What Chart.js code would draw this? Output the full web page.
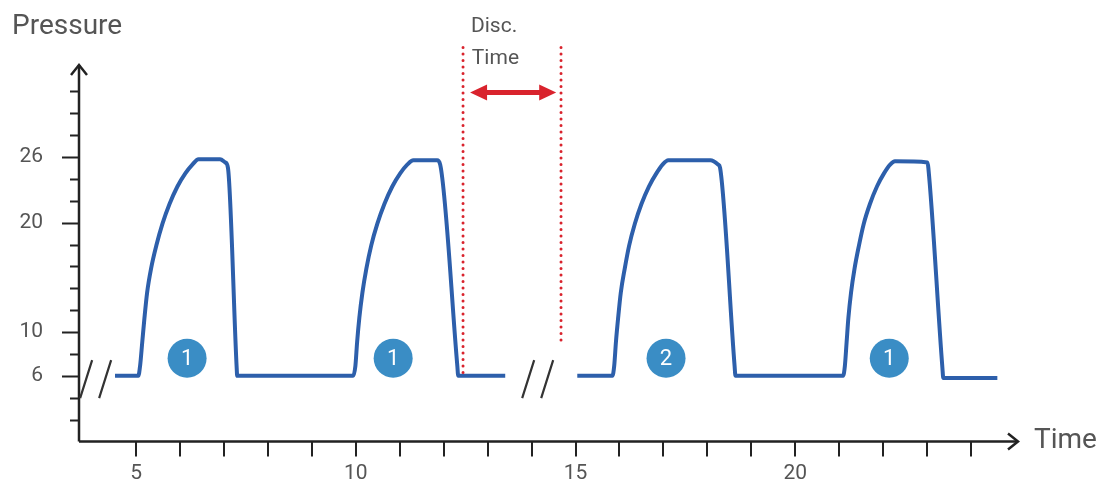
<!DOCTYPE html>
<html>
<head>
<meta charset="utf-8">
<script src="https://cdn.jsdelivr.net/npm/chart.js@4.4.0/dist/chart.umd.min.js"></script>
<style>
  html, body { margin: 0; padding: 0; background: #fff; }
  #chart { display: block; }
</style>
</head>
<body>
<canvas id="chart" width="1102" height="490"></canvas>
<script>
// pressure trace, null = the // break between cycles
const pulseTime = [
    4.52, 5.05, 5.09, 5.14, 5.19, 5.25, 5.34, 5.46, 5.60, 5.76, 5.94, 6.12, 6.28, 6.42, 6.91, 7.03, 7.09, 7.29, 7.30,
    9.94, 9.99, 10.03, 10.08, 10.15, 10.24, 10.35, 10.49, 10.65, 10.83, 11.01, 11.17, 11.31, 11.85, 11.92, 12.31, 12.33, 13.40,
    14.20,
    15.04, 15.84, 15.88, 15.92, 15.97, 16.03, 16.12, 16.22, 16.35, 16.50, 16.67, 16.84, 16.98, 17.11, 18.07, 18.25, 18.29, 18.62, 18.64,
    21.09, 21.13, 21.17, 21.21, 21.27, 21.35, 21.45, 21.56, 21.70, 21.86, 22.02, 22.16, 22.27, 23.01, 23.03, 23.35, 23.37, 24.60
];
const pulsePressure = [
    6, 6, 6.9, 9.1, 11.3, 13.6, 15.8, 17.9, 19.9, 21.7, 23.3, 24.5, 25.3, 25.8, 25.8, 25.5, 25.0, 6.6, 6,
    6, 6.9, 9.1, 11.3, 13.6, 15.8, 17.9, 19.9, 21.7, 23.3, 24.5, 25.3, 25.7, 25.7, 25.3, 6.9, 6, 6,
    null,
    6, 6, 6.9, 9.1, 11.3, 13.6, 15.8, 17.9, 19.9, 21.7, 23.3, 24.5, 25.3, 25.7, 25.7, 25.3, 25.0, 6.9, 6,
    6, 6.9, 9.1, 11.3, 13.6, 15.8, 17.9, 19.9, 21.7, 23.3, 24.5, 25.3, 25.6, 25.5, 25.0, 6.7, 5.8, 5.8
];

// numbered phase markers
const phaseTime = [6.16, 10.85, 17.06, 22.14];
const phasePressure = [7.6, 7.6, 7.6, 7.6];
const phaseLabels = ['1', '1', '2', '1'];

// axis labels
const xTickValues = [5, 10, 15, 20];
const yTickValues = [6, 10, 20, 26];

// annotations (data units)
const breakTimes = [4.09, 14.15];
const discTimes = [12.44, 14.67];
const discBottoms = [6, 8.7];

const textColor = '#555';
const axisColor = '#222';
const red = '#d9232d';

const axesPlugin = {
    id: 'axes',
    beforeDatasetsDraw(chart) {
        const { ctx, chartArea: a, scales: { x, y } } = chart;
        ctx.save();
        ctx.strokeStyle = axisColor;
        ctx.lineWidth = 2.5;
        ctx.beginPath();
        ctx.moveTo(a.left, a.bottom);
        ctx.lineTo(a.left, a.top);
        ctx.moveTo(a.left, a.bottom);
        ctx.lineTo(a.right, a.bottom);
        ctx.stroke();

        // arrow heads
        ctx.beginPath();
        ctx.moveTo(a.left - 8, a.top + 10);
        ctx.lineTo(a.left, a.top);
        ctx.lineTo(a.left + 8, a.top + 10);
        ctx.moveTo(a.right - 10, a.bottom - 8);
        ctx.lineTo(a.right, a.bottom);
        ctx.lineTo(a.right - 10, a.bottom + 8);
        ctx.stroke();

        // tick marks
        ctx.lineWidth = 2;
        ctx.beginPath();
        for (let v = 2; v <= 32; v += 2) {
            const py = Math.round(y.getPixelForValue(v)) + 0.5;
            const len = yTickValues.includes(v) ? 17 : 9;
            ctx.moveTo(a.left - len, py);
            ctx.lineTo(a.left, py);
        }
        for (let t = 5; t <= 24; t++) {
            const px = Math.round(x.getPixelForValue(t));
            ctx.moveTo(px, a.bottom);
            ctx.lineTo(px, a.bottom + 15);
        }
        ctx.stroke();

        // axis titles
        ctx.fillStyle = textColor;
        ctx.font = '28px Roboto';
        ctx.textBaseline = 'middle';
        ctx.textAlign = 'left';
        ctx.fillText('Pressure', 12, 27);
        ctx.fillText('Time', a.right + 16, a.bottom);
        ctx.restore();
    },
    afterDatasetsDraw(chart) {
        const { ctx, scales: { x, y } } = chart;
        ctx.save();

        // // break marks
        ctx.strokeStyle = '#333';
        ctx.lineWidth = 2.2;
        ctx.beginPath();
        breakTimes.forEach(bt => {
            const cx = x.getPixelForValue(bt);
            const cy = y.getPixelForValue(5.7);
            [-10, 9].forEach(off => {
                ctx.moveTo(cx + off - 6, cy + 19);
                ctx.lineTo(cx + off + 6, cy - 19);
            });
        });
        ctx.stroke();

        // dotted disconnection lines
        ctx.strokeStyle = red;
        ctx.lineWidth = 3;
        ctx.lineCap = 'round';
        ctx.setLineDash([0, 6.5]);
        discTimes.forEach((dt, i) => {
            const px = x.getPixelForValue(dt);
            ctx.beginPath();
            ctx.moveTo(px, y.getPixelForValue(36));
            ctx.lineTo(px, y.getPixelForValue(discBottoms[i]));
            ctx.stroke();
        });
        ctx.setLineDash([]);

        // double arrow
        const ay = y.getPixelForValue(31.9);
        const x0 = x.getPixelForValue(12.60);
        const x1 = x.getPixelForValue(14.56);
        ctx.fillStyle = red;
        ctx.strokeStyle = red;
        ctx.lineWidth = 5;
        ctx.lineCap = 'butt';
        ctx.beginPath();
        ctx.moveTo(x0 + 12, ay);
        ctx.lineTo(x1 - 12, ay);
        ctx.stroke();
        ctx.beginPath();
        ctx.moveTo(x0, ay);
        ctx.lineTo(x0 + 17, ay - 8);
        ctx.lineTo(x0 + 17, ay + 8);
        ctx.closePath();
        ctx.moveTo(x1, ay);
        ctx.lineTo(x1 - 17, ay - 8);
        ctx.lineTo(x1 - 17, ay + 8);
        ctx.closePath();
        ctx.fill();

        // Disc. Time label
        ctx.fillStyle = textColor;
        ctx.font = '21px Roboto';
        ctx.textBaseline = 'middle';
        ctx.textAlign = 'left';
        ctx.fillText('Disc.', x.getPixelForValue(12.62), y.getPixelForValue(37.9));
        ctx.fillText('Time', x.getPixelForValue(12.64), y.getPixelForValue(35.0));

        // numbers inside the circles
        const meta = chart.getDatasetMeta(1);
        ctx.fillStyle = '#fff';
        ctx.font = '22px Roboto';
        ctx.textAlign = 'center';
        meta.data.forEach((pt, i) => {
            ctx.fillText(phaseLabels[i], pt.x, pt.y + 1);
        });
        ctx.restore();
    }
};

const tickFont = { family: 'Roboto', size: 21 };

new Chart(document.getElementById('chart'), {
    type: 'line',
    data: {
        datasets: [{
            data: pulseTime.map((t, i) => ({ x: t, y: pulsePressure[i] })),
            borderColor: '#2d5fab',
            borderWidth: 4,
            borderJoinStyle: 'round',
            pointRadius: 0,
            cubicInterpolationMode: 'monotone',
            spanGaps: false
        }, {
            data: phaseTime.map((t, i) => ({ x: t, y: phasePressure[i] })),
            showLine: false,
            pointRadius: 19.5,
            pointBackgroundColor: '#3a8dc5',
            pointBorderWidth: 0
        }]
    },
    options: {
        responsive: false,
        animation: false,
        layout: { padding: { top: 65, right: 84, left: 0, bottom: 0 } },
        plugins: { legend: { display: false }, tooltip: { enabled: false } },
        scales: {
            x: {
                type: 'linear',
                min: 3.70,
                max: 25.07,
                grid: { display: false, drawTicks: false },
                border: { display: false },
                ticks: {
                    stepSize: 1,
                    autoSkip: false,
                    maxRotation: 0,
                    padding: 20,
                    color: textColor,
                    font: tickFont,
                    callback: v => xTickValues.includes(v) ? String(v) : ''
                },
                afterFit: s => { s.height = 43; }
            },
            y: {
                min: 0,
                max: 34.41,
                grid: { display: false, drawTicks: false },
                border: { display: false },
                ticks: {
                    stepSize: 2,
                    autoSkip: false,
                    padding: 36,
                    color: textColor,
                    font: tickFont,
                    callback: v => yTickValues.includes(v) ? String(v) : ''
                },
                afterFit: s => { s.width = 79; }
            }
        }
    },
    plugins: [axesPlugin]
});
</script>
</body>
</html>
